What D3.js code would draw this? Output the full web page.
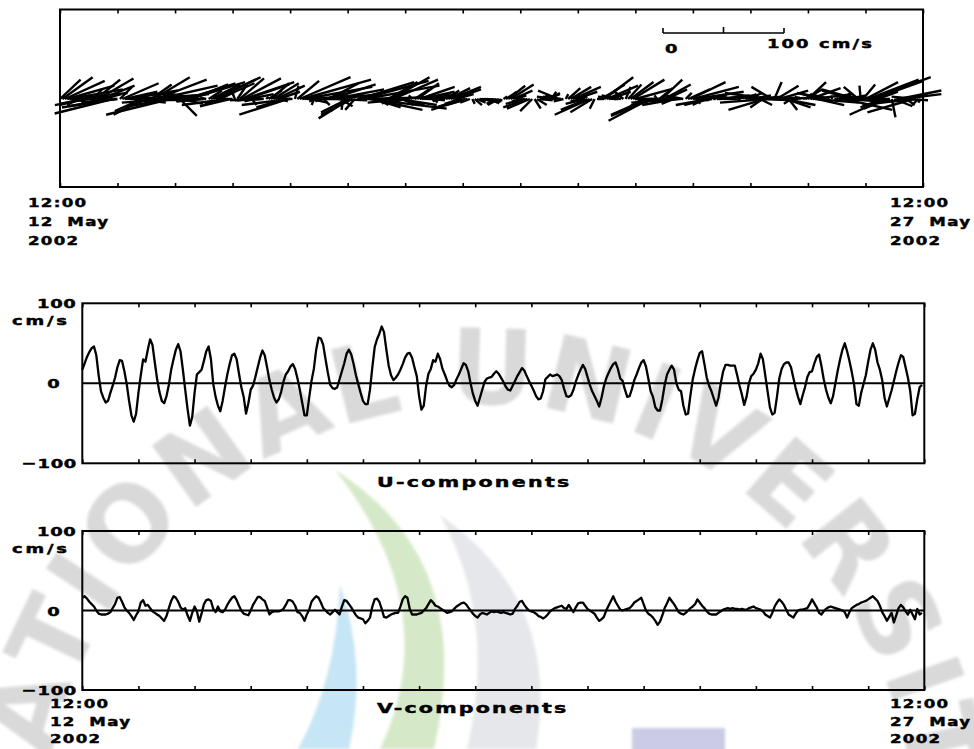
<!DOCTYPE html>
<html>
<head>
<meta charset="utf-8">
<title>Current vectors and components, 12–27 May 2002</title>
<script src="https://cdn.jsdelivr.net/npm/d3@7/dist/d3.min.js"></script>
<style>
  html, body { margin: 0; padding: 0; background: #fff; }
  svg { display: block; }
  text { font-family: "DejaVu Sans", sans-serif; font-weight: bold; fill: #000; }
  text.lbl { stroke: #000; stroke-width: 0.45px; }
</style>
</head>
<body>
<svg id="chart" width="974" height="749"></svg>
<script>
// Hourly east (U) and north (V) current components in cm/s,
// first sample at 12:00 UTC 12 May 2002, one row per day.
const U = [
  17, 25, 33, 39, 44, 46, 35, 10, -10, -18, -24, -22, -12, -3, 7, 20, 29, 28, 15, -1, -22, -40, -48, -38,
  -12, 10, 30, 27, 42, 55, 48, 26, 5, -11, -22, -25, -16, -2, 17, 30, 42, 49, 40, 17, -8, -32, -53, -42,
  -12, 11, 14, 17, 28, 40, 46, 30, -1, -17, -28, -35, -22, -5, 11, 24, 35, 37, 30, 12, -5, -17, -38, -25,
  -8, -3, 8, 20, 32, 41, 35, 20, 4, -8, -18, -24, -20, -11, 2, 11, 15, 21, 24, 18, 6, -8, -24, -40,
  -40, -18, 3, 18, 42, 57, 56, 48, 30, 13, -2, -6, -7, -5, 5, 15, 25, 37, 42, 36, 24, 10, -1, -12,
  -22, -26, -26, -8, 20, 45, 55, 62, 71, 64, 42, 22, 10, 4, 7, 11, 17, 24, 32, 37, 38, 32, 20, 9,
  -16, -33, -28, -3, 12, 18, 29, 27, 37, 30, 18, 11, 3, -3, -5, -2, 5, 11, 18, 25, 23, 15, 0, -13,
  -22, -28, -18, -8, 2, 6, 7, 8, 12, 15, 12, 7, 2, -4, -8, -9, -3, 3, 9, 14, 19, 16, 9, 3,
  -3, -9, -16, -20, -19, -10, 5, 8, 11, 9, 10, 11, 9, 4, -7, -16, -17, -15, -8, 2, 10, 17, 23, 18,
  8, -2, -10, -16, -22, -29, -18, -4, 6, 13, 19, 24, 26, 18, 6, 3, -8, -17, -16, -7, 4, 11, 19, 26,
  29, 21, 6, -10, -17, -30, -34, -34, -20, -2, 11, 17, 22, 17, 0, -8, -10, -28, -39, -38, -15, 5, 18, 29,
  38, 40, 24, 7, -3, -10, -19, -28, -18, 0, 15, 23, 23, 22, 22, 22, 10, -3, -14, -27, -17, 0, 9, 12,
  17, 25, 37, 30, 10, -10, -30, -39, -37, -17, 6, 18, 24, 26, 26, 20, 7, -6, -17, -26, -15, -5, 8, 14,
  15, 25, 33, 36, 22, 5, -8, -18, -25, -16, 0, 16, 30, 42, 50, 40, 28, 14, -2, -26, -28, -12, -1, 10,
  27, 42, 50, 42, 26, 17, 4, -18, -29, -19, -9, 3, 15, 26, 35, 33, 20, 7, -10, -40, -38, -20, -5, -2
];
const V = [
  16, 18, 15, 11, 8, 5, 0, -4, -5, -5, -5, -4, -2, 3, 8, 16, 17, 11, 4, 0, -3, -7, -12, -6,
  -1, 10, 13, 6, 7, 3, -1, -3, -5, -7, -10, -13, -7, 3, 12, 18, 16, 11, 4, 1, 3, -6, -13, -3,
  5, -1, -14, -4, 8, 13, 14, 12, 2, -2, 5, -1, -2, 1, 7, 12, 16, 18, 13, 6, 0, -4, -5, -6,
  0, 7, 12, 17, 17, 14, 12, 4, -5, -2, -1, -1, -1, 0, 2, 7, 13, 13, 11, 6, -2, -3, -7, -13,
  -5, 1, 11, 15, 18, 16, 10, 3, 0, -3, -5, -2, 1, -2, -5, 5, 13, 12, 8, 4, -1, -6, -9, -10,
  -11, -16, -13, -9, 5, 14, 15, 11, 2, -8, -9, -7, -5, -4, -3, -3, 5, 14, 18, 16, 2, -5, -5, -5,
  -4, -3, 0, 3, 8, 13, 10, 6, 5, 3, 1, -1, -3, -2, -1, 2, 5, 7, 9, 10, 8, 4, 0, -4,
  -7, -9, -5, -3, -4, -5, -3, -1, -2, -1, -2, -3, -2, -3, -4, -5, -4, 2, 6, 11, 12, 7, 3, 0,
  -1, -2, -4, -7, -8, -10, -8, -5, -1, 1, 3, 4, 5, 6, 3, 2, 7, 2, -2, 4, 9, 10, 10, 6,
  2, 0, -2, -4, -9, -13, -11, -8, 0, 6, 12, 18, 11, 6, 1, 0, 1, 2, 3, 6, 10, 12, 14, 16,
  8, 0, -4, -6, -9, -13, -18, -14, -6, 3, 9, 16, 12, 8, 3, -2, -4, -5, -3, 0, 3, 5, 8, 14,
  10, 6, 3, -1, -4, -5, -5, -5, -3, -1, 1, 2, 3, 2, 3, 2, 2, 1, 2, 1, 1, 3, 4, 5,
  3, 2, 1, -1, -5, -7, -9, -3, 5, 10, 14, 11, 7, 1, -5, -7, -9, -4, 0, 1, 1, 2, 3, 8,
  14, 9, 4, -3, -5, -1, 2, 4, 5, 4, 3, 2, 1, 0, -2, -9, -2, 3, 5, 7, 8, 10, 11, 12,
  14, 16, 18, 15, 12, 6, -2, -7, -13, -8, -3, -15, -6, 3, 7, 4, -1, -5, 1, -5, -11, 2, -5, -3
];

const startLabels = ["12:00", "12 May", "2002"];
const endLabels = ["12:00", "27 May", "2002"];
const yTicks = [100, 0, -100];
const yTickText = ["100", "0", "\u2212100"];
const unitText = "cm/s";
const panelTitles = ["U-components", "V-components"];
const scaleBarTicks = [0, 50, 100];
const scaleBarText = ["0", "100 cm/s"];
const watermarkText = "NATIONAL UNIVERSITY";

const svg = d3.select("#chart");
const t0 = new Date(Date.UTC(2002, 4, 12, 12));
const t1 = d3.utcDay.offset(t0, 15);
const times = U.map((_, i) => d3.utcHour.offset(t0, i));
const dayTicks = d3.range(16).map(d => d3.utcDay.offset(t0, d));

// ---------- faint background emblem ----------
const defs = svg.append("defs");
defs.append("filter").attr("id", "soft")
  .attr("x", "-10%").attr("y", "-10%").attr("width", "120%").attr("height", "120%")
  .append("feGaussianBlur").attr("stdDeviation", 1.6);

const emblem = svg.append("g").attr("filter", "url(#soft)");
const cx = 480, cy = 840, rText = 436;
const arcPt = a => [cx + rText * Math.sin(a * Math.PI / 180), cy - rText * Math.cos(a * Math.PI / 180)];
const [ax0, ay0] = arcPt(-100), [ax1, ay1] = arcPt(110);
defs.append("path").attr("id", "emblemArc")
  .attr("d", `M${ax0},${ay0} A${rText},${rText} 0 1 1 ${ax1},${ay1}`);

emblem.append("path").attr("fill", "#c6e5f5")
  .attr("d", "M340,585 Q368,665 349,749 L298,749 Q336,680 340,585 Z");
emblem.append("path").attr("fill", "#d5e9c8")
  .attr("d", "M335,470 Q478,560 434,749 L380,749 Q446,610 335,470 Z");
emblem.append("path").attr("fill", "#e5e7ea")
  .attr("d", "M440,515 Q562,600 536,749 L467,749 Q498,620 440,515 Z");
emblem.append("rect").attr("x", 632).attr("y", 728).attr("width", 93).attr("height", 25)
  .attr("fill", "#cbcbe5");
emblem.append("text")
  .style("font-size", "104px").style("fill", "#d9d9d9").style("letter-spacing", "4px")
  .append("textPath").attr("href", "#emblemArc").attr("startOffset", 66)
  .text(watermarkText);

// ---------- helpers ----------
function addText(x, y, str, o = {}) {
  const size = o.size || 12.8, sx = o.sx || 1.4;
  const t = svg.append("text").attr("class", "lbl")
    .attr("transform", `translate(${x},${y}) scale(${sx},1)`)
    .attr("text-anchor", o.anchor || "start")
    .style("font-size", size + "px")
    .style("letter-spacing", (o.spacing ?? 0.5) + "px");
  if (o.length) t.attr("textLength", o.length / sx).attr("lengthAdjust", "spacing");
  const parts = str.split(" ");
  if (o.gap && parts.length === 2) {
    t.append("tspan").text(parts[0]);
    t.append("tspan").attr("dx", o.gap).text(" " + parts[1]);
  } else {
    t.text(str);
  }
  return t;
}

function frame(x, y0, y1) {
  const [xa, xb] = x.range();
  svg.append("g").attr("transform", `translate(0,${y1})`)
    .call(d3.axisTop(x).tickValues(dayTicks).tickSize(4).tickFormat(""))
    .call(g => g.select(".domain").remove())
    .selectAll("line").attr("stroke", "#000").attr("stroke-width", 1.6);
  svg.append("g").attr("transform", `translate(0,${y0})`)
    .call(d3.axisBottom(x).tickValues(dayTicks).tickSize(4).tickFormat(""))
    .call(g => g.select(".domain").remove())
    .selectAll("line").attr("stroke", "#000").attr("stroke-width", 1.6);
  svg.append("rect").attr("x", xa).attr("y", y0)
    .attr("width", xb - xa).attr("height", y1 - y0)
    .attr("fill", "none").attr("stroke", "#000").attr("stroke-width", 2);
}

function dateLabels(x, baselines, labels) {
  labels.forEach((s, i) => addText(x, baselines[i], s, { sx: 1.3, spacing: 1, gap: 5 }));
}

// ---------- stick (vector) plot ----------
const xTop = d3.scaleUtc().domain([t0, t1]).range([60, 923]);
const speed = d3.scaleLinear().domain([0, 100]).range([0, 121]);
const stickBase = 99;
frame(xTop, 9.5, 187);

svg.append("g").selectAll("line").data(times).join("line")
  .attr("x1", d => xTop(d)).attr("y1", stickBase)
  .attr("x2", (d, i) => xTop(d) + speed(U[i]))
  .attr("y2", (d, i) => stickBase - speed(V[i]))
  .attr("stroke", "#000").attr("stroke-width", 2.4);

// velocity scale bar
const barX = 663, barY = 33;
svg.append("line").attr("x1", barX).attr("x2", barX + speed(scaleBarTicks[2]))
  .attr("y1", barY).attr("y2", barY).attr("stroke", "#000").attr("stroke-width", 1.6);
svg.append("g").selectAll("line").data(scaleBarTicks).join("line")
  .attr("x1", d => barX + speed(d)).attr("x2", d => barX + speed(d))
  .attr("y1", barY).attr("y2", (d, i) => barY - (i === 1 ? 6 : 5))
  .attr("stroke", "#000").attr("stroke-width", 1.6);
addText(barX + 2, 52.5, scaleBarText[0]);
addText(barX + speed(scaleBarTicks[2]) - 17, 48.3, scaleBarText[1], { spacing: 1.5 });

dateLabels(28, [207, 226, 245], startLabels);
dateLabels(890, [207, 226, 245], endLabels);

// ---------- component time series ----------
const xTs = d3.scaleUtc().domain([t0, t1]).range([82.3, 924.3]);
const panels = [
  { series: U, top: 303.3, bottom: 463.3, title: panelTitles[0], titleY: 487, width: 193 },
  { series: V, top: 531, bottom: 690, title: panelTitles[1], titleY: 713, width: 190 }
];
const labelRight = [76.5, 60.5, 77];

panels.forEach(p => {
  const y = d3.scaleLinear().domain([-100, 100]).range([p.bottom, p.top]);
  frame(xTs, p.top, p.bottom);

  svg.append("line").attr("x1", xTs.range()[0]).attr("x2", xTs.range()[1])
    .attr("y1", y(0)).attr("y2", y(0)).attr("stroke", "#000").attr("stroke-width", 2);

  svg.append("path").datum(p.series)
    .attr("fill", "none").attr("stroke", "#000").attr("stroke-width", 2.3)
    .attr("stroke-linejoin", "round")
    .attr("d", d3.line().x((d, i) => xTs(times[i])).y(d => y(d)));

  yTicks.forEach((v, i) => addText(labelRight[i], y(v) + 5, yTickText[i], { anchor: "end" }));
  addText(12, y(100) + 21.5, unitText, { spacing: 2 });
  addText(377, p.titleY, p.title, { size: 14.2, sx: 1.45, length: p.width });
});

dateLabels(50, [708, 725.5, 743], startLabels);
dateLabels(890, [708, 725.5, 743], endLabels);
</script>
</body>
</html>
